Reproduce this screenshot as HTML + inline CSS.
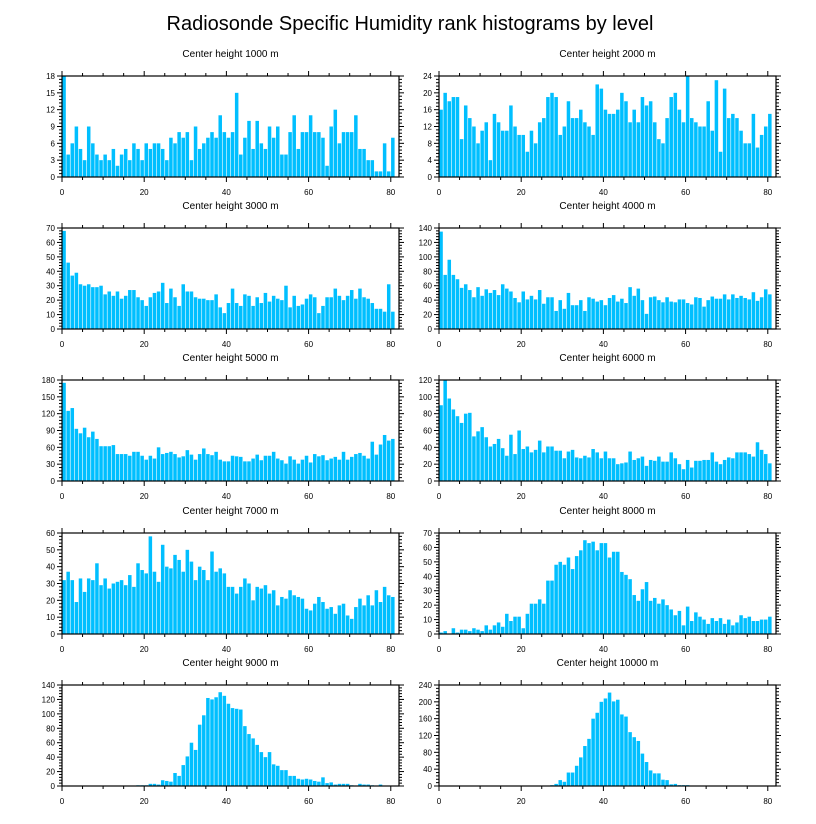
<!DOCTYPE html>
<html><head><meta charset="utf-8"><style>
html,body{margin:0;padding:0;background:#fff;}
svg{display:block;font-family:"Liberation Sans",sans-serif;}
</style></head><body>
<svg id="chart" width="816" height="824" viewBox="0 0 816 824" xmlns="http://www.w3.org/2000/svg">
<text x="410" y="30" text-anchor="middle" font-size="20">Radiosonde Specific Humidity rank histograms by level</text>
</svg>
<script>
const panelTitles = ["Center height 1000 m","Center height 2000 m","Center height 3000 m","Center height 4000 m","Center height 5000 m","Center height 6000 m","Center height 7000 m","Center height 8000 m","Center height 9000 m","Center height 10000 m"];
const yMaxes = [18,24,70,140,180,120,60,70,140,240];
const yMajorSteps = [3,4,10,20,30,20,10,10,20,40];
const xTickLabels = [0,20,40,60,80];
const counts1000 = [18,4,6,9,5,3,9,6,4,3,4,3,5,2,4,5,3,6,5,3,6,5,6,6,5,3,7,6,8,7,8,3,9,5,6,7,8,7,11,8,7,8,15,4,7,10,5,10,6,5,9,7,9,4,4,8,11,5,8,8,11,8,8,7,2,9,12,6,8,8,8,11,5,5,3,3,1,1,6,1,7];
const counts2000 = [16,20,18,19,19,9,17,14,12,8,11,13,4,15,13,11,11,17,12,10,10,6,11,8,13,14,19,20,19,10,12,18,14,14,16,13,12,10,22,21,16,15,15,16,20,18,13,16,13,19,17,18,13,9,8,14,19,20,16,13,24,14,13,12,12,18,11,23,6,21,14,15,14,11,8,8,15,7,10,12,15];
const counts3000 = [68,46,37,39,31,30,31,29,29,30,24,26,23,26,21,23,27,27,22,20,16,22,25,26,32,18,28,22,16,31,26,26,22,21,21,20,20,24,15,11,18,28,18,16,24,23,16,22,18,25,19,23,21,20,30,15,23,16,17,21,24,22,11,16,22,22,28,23,20,23,27,21,28,22,21,18,14,14,12,31,12];
const counts4000 = [135,75,96,75,69,57,62,54,44,58,46,55,50,54,47,62,56,52,43,37,52,41,46,41,54,35,44,44,25,40,28,50,33,33,40,25,44,42,38,40,33,43,47,38,42,36,58,46,56,40,21,44,45,40,37,44,38,37,41,41,36,34,44,43,31,40,45,42,42,48,41,48,43,46,43,41,51,39,44,55,48];
const counts5000 = [175,125,130,93,85,95,78,88,75,62,62,62,64,48,48,48,45,52,52,45,38,45,40,60,48,50,52,48,42,44,55,47,38,48,58,48,46,52,38,35,35,45,44,43,35,35,40,47,37,45,45,52,40,37,31,44,38,31,38,45,33,48,44,46,37,40,43,38,52,38,43,48,50,45,40,70,47,65,82,72,75];
const counts6000 = [90,120,98,85,77,69,80,81,53,59,64,52,41,44,50,39,30,55,32,60,38,41,34,37,48,34,41,41,36,36,27,35,37,28,27,30,28,38,34,27,35,27,27,20,21,22,35,25,27,29,18,25,24,29,23,23,34,27,20,14,25,16,24,24,25,25,34,23,20,25,28,27,34,34,34,32,29,46,37,32,21];
const counts7000 = [32,37,32,19,33,25,33,32,42,29,33,27,30,31,32,29,35,28,42,38,36,58,37,31,53,40,39,47,44,37,50,43,32,40,38,32,49,37,39,36,28,28,24,28,33,30,20,28,27,29,24,26,17,22,21,26,23,22,21,15,14,18,22,19,15,16,12,17,18,11,9,16,21,17,23,17,26,19,28,23,22];
const counts8000 = [1,2,0,4,1,3,3,2,4,3,2,6,3,6,8,5,14,9,12,12,4,14,21,21,24,21,37,37,48,50,48,53,45,54,58,65,63,64,58,63,63,53,57,57,43,41,38,27,23,31,36,23,25,21,24,20,17,13,16,6,19,9,15,12,10,7,11,9,11,7,10,6,8,13,11,12,9,9,10,10,12];
const counts9000 = [0,0,0,0,0,0,0,0,0,0,0,0,0,0,0,0,0,0,1,1,1,3,3,2,8,7,6,18,14,29,41,60,50,85,98,122,120,123,130,125,114,108,107,106,83,72,66,57,47,40,47,30,28,22,22,14,14,10,9,10,9,7,6,12,4,5,2,3,3,3,1,0,3,2,2,1,0,2,0,0,0];
const counts10000 = [0,0,0,0,0,0,0,0,0,0,0,0,0,0,0,0,0,0,0,0,0,0,0,1,0,1,0,2,5,14,10,32,32,48,68,95,112,160,174,200,208,222,201,205,170,165,128,116,107,77,57,37,30,30,15,14,4,5,2,2,2,0,0,0,0,0,0,0,0,0,0,0,0,0,0,0,0,0,0,0,0];
const allCounts = [counts1000,counts2000,counts3000,counts4000,counts5000,counts6000,counts7000,counts8000,counts9000,counts10000];

const NS = "http://www.w3.org/2000/svg";
const svg = document.getElementById("chart");
const colLeft = [62, 439], plotW = 337, plotH = 101;
const rowTop = [76, 228, 380, 533, 685];
const XMAX = 82;
function mk(tag, attrs, parent){const e=document.createElementNS(NS,tag);for(const k in attrs)e.setAttribute(k,attrs[k]);(parent||svg).appendChild(e);return e;}

allCounts.forEach((counts, p) => {
  const x0 = colLeft[p%2], y0 = rowTop[Math.floor(p/2)];
  const ymax = yMaxes[p], step = yMajorSteps[p];
  const xs = v => x0 + v/XMAX*plotW;
  const ys = v => y0 + plotH - v/ymax*plotH;
  const g = mk("g", {});
  
  
  const t = mk("text", {x: x0+plotW/2, y: y0-19, "text-anchor":"middle", "font-size":"10"}, g);
  
  
  t.textContent = panelTitles[p];
  counts.forEach((c, i) => {
    if (c <= 0) return;
    const r = mk("rect", {x: xs(i)+0.3, y: ys(Math.min(c,ymax)), width: xs(i+1)-xs(i)-0.6, height: ys(0)-ys(Math.min(c,ymax)), fill:"#00bfff"}, g);
    
    
  });
  const frame = mk("rect", {x:x0, y:y0, width:plotW, height:plotH, fill:"none", stroke:"#000", "stroke-width":"1.2"}, g);
  
  
  for (let v=0; v<=XMAX; v+=5) {
    const major = v%20===0, len = major?5:3, X = xs(v);
    mk("line",{x1:X,x2:X,y1:y0,y2:y0-len,stroke:"#000","stroke-width":"1"},g);
    mk("line",{x1:X,x2:X,y1:y0+plotH,y2:y0+plotH+len,stroke:"#000","stroke-width":"1"},g);
  }
  xTickLabels.forEach(v => {
    const tl = mk("text",{x:xs(v),y:y0+plotH+18,"text-anchor":"middle","font-size":"8"},g);
    
    
    tl.textContent = v;
  });
  const minor = step/5;
  for (let k=0; k*minor<=ymax+1e-9; k++) {
    const v=k*minor, major=k%5===0, len=major?5:3, Y=ys(v);
    mk("line",{x1:x0,x2:x0-len,y1:Y,y2:Y,stroke:"#000","stroke-width":"1"},g);
    mk("line",{x1:x0+plotW,x2:x0+plotW+len,y1:Y,y2:Y,stroke:"#000","stroke-width":"1"},g);
    if (major) {
      const yl = mk("text",{x:x0-7,y:Y+3,"text-anchor":"end","font-size":"8"},g);
      
      
      yl.textContent = Math.round(v);
    }
  }
});
</script>
</body></html>
